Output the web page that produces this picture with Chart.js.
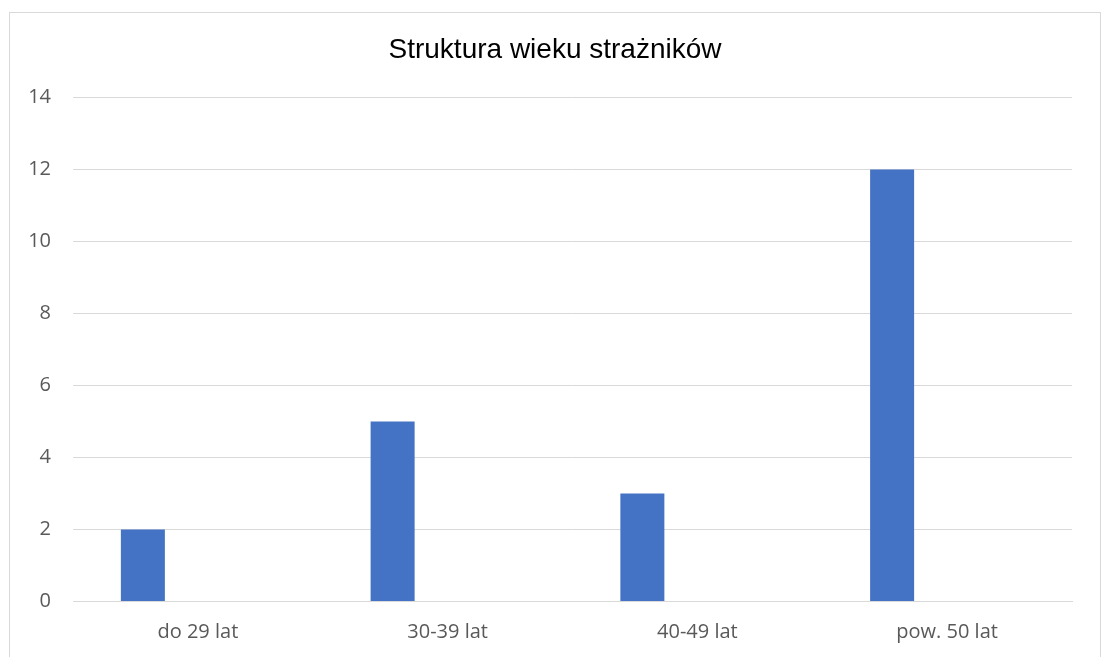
<!DOCTYPE html>
<html lang="pl">
<head>
    <meta charset="UTF-8">
    <title>Struktura wieku strażników</title>
    <script src="https://cdn.jsdelivr.net/npm/chart.js"></script>
    <style>
        html, body{margin:0; padding:0; background:#fff; overflow:hidden;}
        #frame{position:absolute; left:9px; top:12px; width:1090px; height:700px; border:1px solid #d9d9d9;}
        #myChart{position:absolute; left:0; top:0;}
    </style>
</head>
<body>
    <div id="frame"></div>
    <canvas id="myChart" width="1104" height="657"></canvas>
    <script>
        // dane z wykresu
        const labels = ["do 29 lat", "30-39 lat", "40-49 lat", "pow. 50 lat"];
        const liczba = [2, 5, 3, 12];
        const drugaSeria = [null, null, null, null]; // pusta seria (miejsce po prawej)
        const yTicks = [0, 2, 4, 6, 8, 10, 12, 14];

        const gridColor = "#d9d9d9";
        const tickColor = "#595959";

        // tytul wysrodkowany na ramce, nie na obszarze wykresu
        const centerTitle = {
            id: "centerTitle",
            afterLayout(chart){
                if (chart.titleBlock) chart.titleBlock.left = 38;
            }
        };

        new Chart(document.getElementById("myChart"), {
            type: "bar",
            data: {
                labels: labels,
                datasets: [{
                    label: "Liczba",
                    data: liczba,
                    backgroundColor: "#4472C4",
                    borderWidth: 0,
                    categoryPercentage: 0.881,
                    barPercentage: 0.4
                }, {
                    label: "",
                    data: drugaSeria,
                    backgroundColor: "#ED7D31",
                    categoryPercentage: 0.881,
                    barPercentage: 0.4
                }]
            },
            options: {
                responsive: false,
                animation: false,
                layout: {padding: {left: 10, right: 32, top: 0, bottom: 0}},
                plugins: {
                    legend: {display: false},
                    tooltip: {enabled: false},
                    title: {
                        display: true,
                        text: "Struktura wieku strażników",
                        color: "#000",
                        font: {family: "'Liberation Sans', Arial, sans-serif", size: 28, weight: "normal"},
                        padding: {top: 33, bottom: 31}
                    }
                },
                scales: {
                    x: {
                        grid: {display: false, drawTicks: false},
                        border: {display: true, color: gridColor, width: 1},
                        ticks: {color: tickColor, padding: 19, font: {family: "'Open Sans', sans-serif", size: 20}},
                        afterFit: function(scale){ scale.height = 55.5; }
                    },
                    y: {
                        min: 0,
                        max: 14,
                        grid: {color: gridColor, drawTicks: false},
                        border: {display: false},
                        afterBuildTicks: function(scale){ scale.ticks = yTicks.map(v => ({value: v})); },
                        ticks: {color: tickColor, padding: 22, font: {family: "'Open Sans', sans-serif", size: 20}},
                        afterFit: function(scale){ scale.width = 63; }
                    }
                }
            },
            plugins: [centerTitle]
        });
    </script>
</body>
</html>
